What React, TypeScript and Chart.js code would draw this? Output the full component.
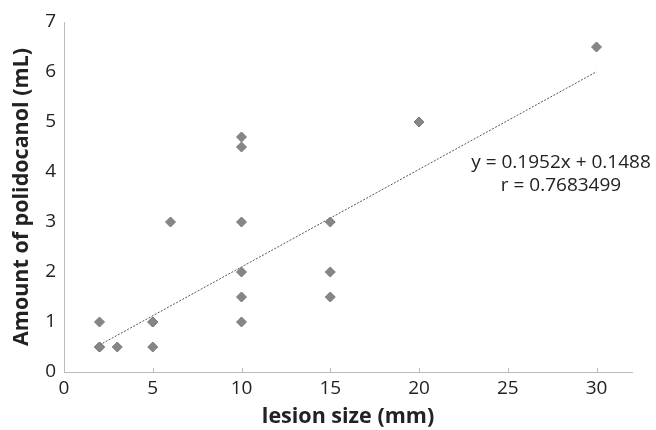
import React, { useEffect, useRef } from "react";
import { Chart, registerables } from "chart.js";

Chart.register(...registerables);

const lesionSize = [2, 2, 2, 3, 5, 5, 5, 6, 10, 10, 10, 10, 10, 10, 15, 15, 15, 20, 30];
const polidocanol = [0.5, 0.5, 1, 0.5, 1, 1, 0.5, 3, 4.7, 4.5, 3, 2, 1.5, 1, 3, 2, 1.5, 5, 6.5];
const slope = 0.1952;
const intercept = 0.1488;
const trendRange = [2, 30];
const equationText = "y = 0.1952x + 0.1488";
const rText = "r = 0.7683499";
const xTicks = [0, 5, 10, 15, 20, 25, 30];

const FONT = "'Open Sans', sans-serif";

export default function App() {
  const ref = useRef<HTMLCanvasElement | null>(null);
  useEffect(() => {
    if (!ref.current) return;
    const points = lesionSize.map((x, i) => ({ x, y: polidocanol[i] }));
    const trend = trendRange.map((x) => ({ x, y: slope * x + intercept }));
    const annot = {
      id: "annot",
      afterDatasetsDraw(chart: any) {
        const { ctx, scales, chartArea } = chart;
        ctx.save();
        // inside tick marks on x axis
        ctx.strokeStyle = "#bbb";
        ctx.lineWidth = 1;
        for (const v of xTicks) {
          const px = Math.round(scales.x.getPixelForValue(v)) + 0.5;
          ctx.beginPath();
          ctx.moveTo(px, chartArea.bottom);
          ctx.lineTo(px, chartArea.bottom - 4);
          ctx.stroke();
        }
        const cx = scales.x.getPixelForValue(28);
        ctx.fillStyle = "#222";
        ctx.font = `19px ${FONT}`;
        ctx.textAlign = "center";
        ctx.textBaseline = "middle";
        ctx.fillText(equationText, cx, scales.y.getPixelForValue(4.18));
        ctx.fillText(rText, cx, scales.y.getPixelForValue(3.73));
        ctx.restore();
      },
    };
    const chart = new Chart(ref.current, {
      type: "scatter",
      data: {
        datasets: [
          {
            data: points,
            pointStyle: "rectRot",
            pointRadius: 5,
            backgroundColor: "#868686",
            borderColor: "#7a7a7a",
            borderWidth: 1,
          },
          {
            type: "line",
            data: trend,
            borderColor: "#555",
            borderWidth: 1,
            borderDash: [2, 1.5],
            pointRadius: 0,
            fill: false,
          } as any,
        ],
      },
      options: {
        animation: false,
        responsive: false,
        layout: { padding: { top: 22, right: 24, left: 0, bottom: 0 } },
        plugins: { legend: { display: false }, tooltip: { enabled: false } },
        scales: {
          x: {
            type: "linear",
            min: 0,
            max: 32,
            afterBuildTicks: (s: any) => {
              s.ticks = xTicks.map((v) => ({ value: v }));
            },
            afterFit: (s: any) => {
              s.height = 58;
            },
            grid: { display: false, drawTicks: false },
            border: { color: "#bbb", width: 1 },
            ticks: { color: "#222", font: { family: FONT, size: 19 }, padding: 5, maxRotation: 0 },
            title: {
              display: true,
              text: "lesion size (mm)",
              color: "#222",
              font: { family: FONT, size: 21.5, weight: "bold" },
              padding: { top: 0, bottom: 0 },
            },
          },
          y: {
            type: "linear",
            min: 0,
            max: 7,
            afterFit: (s: any) => {
              s.width = 64;
            },
            grid: { display: false, drawTicks: true, tickLength: 4, color: "#bbb" },
            border: { color: "#bbb", width: 1 },
            ticks: { stepSize: 1, color: "#222", font: { family: FONT, size: 19 }, padding: 4 },
            title: {
              display: true,
              text: "Amount of polidocanol (mL)",
              color: "#222",
              font: { family: FONT, size: 21.5, weight: "bold" },
              padding: { top: 9, bottom: 0 },
            },
          },
        },
      },
      plugins: [annot],
    });
    return () => chart.destroy();
  }, []);
  return (
    <div style={{ position: "fixed", left: 0, top: 0, width: 656, height: 430, background: "#fff" }}>
      <canvas ref={ref} width={656} height={430} />
    </div>
  );
}
